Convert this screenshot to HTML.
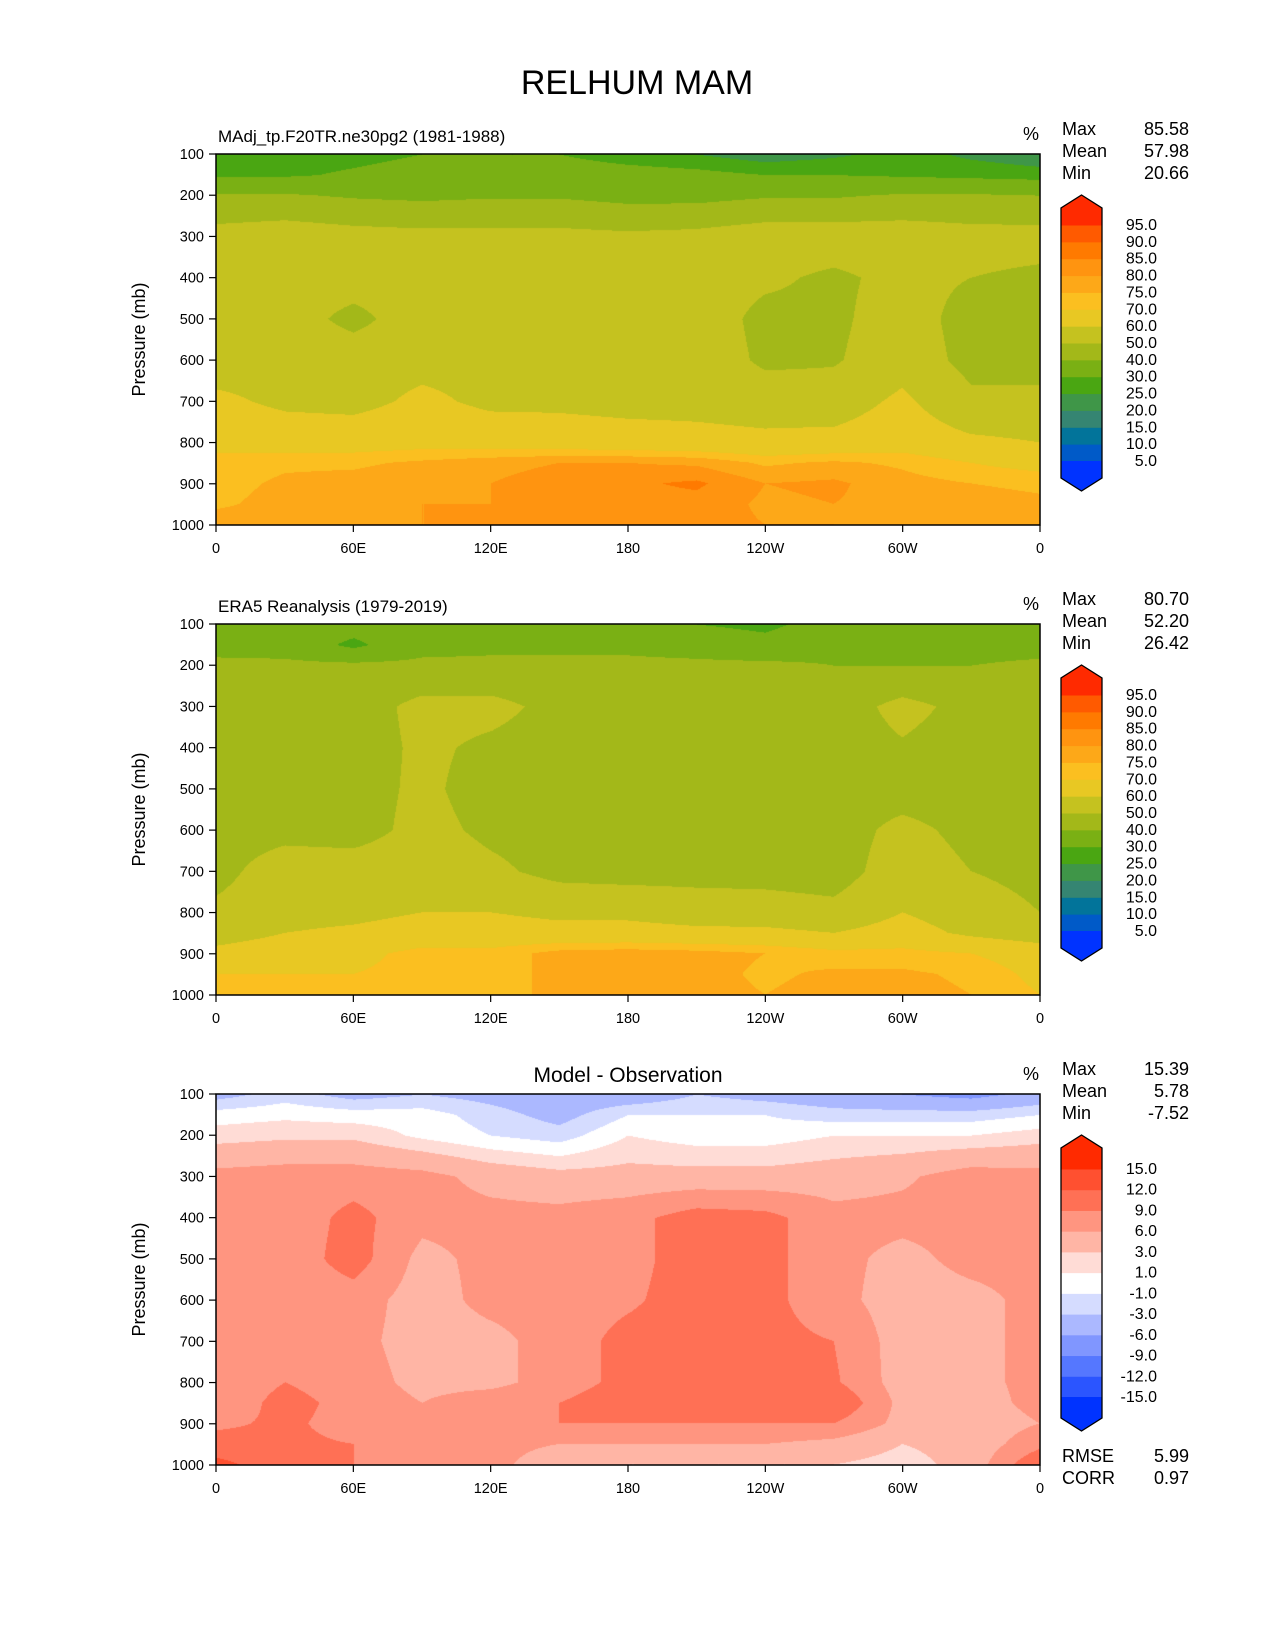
<!DOCTYPE html>
<html><head><meta charset="utf-8"><style>
body{margin:0;background:#fff;}
#wrap{position:relative;width:1275px;height:1650px;overflow:hidden;background:#fff;font-family:"Liberation Sans","DejaVu Sans",sans-serif;}
canvas{position:absolute;}
svg{position:absolute;left:0;top:0;}
</style></head><body>
<div id="wrap">
<canvas id="c0" width="824" height="371" style="left:216px;top:154px"></canvas>
<canvas id="c1" width="824" height="371" style="left:216px;top:624px"></canvas>
<canvas id="c2" width="824" height="371" style="left:216px;top:1094px"></canvas>
<svg id="ov" width="1275" height="1650" xmlns="http://www.w3.org/2000/svg">
<text x="637" y="94" font-size="34" text-anchor="middle" font-family="Liberation Sans, DejaVu Sans, sans-serif">RELHUM MAM</text>
</svg>
</div>
<script>
// ---- data ----
const lons = [0,30,60,90,120,150,180,210,240,270,300,330,360];
const levels = [100,150,200,300,400,500,600,700,800,850,900,950,1000];
const xTickLabels = ["0","60E","120E","180","120W","60W","0"];
const xTickValues = [0,60,120,180,240,300,360];
const yTickValues = [100,200,300,400,500,600,700,800,900,1000];
const model = [
[28,27,28,30,30,30,27,25,22,24,27,24,22],
[29,29,31,33,34,34,33,32,30,30,29,28,27],
[41,41,39,38,39,39,37,37,39,39,41,41,40],
[54,56,54,53,53,53,52,53,56,56,56,54,54],
[53,55,55,55,55,55,55,55,52,48,53,50,48],
[52,55,47,56,56,56,56,56,47,48,55,46,46],
[55,57,56,57,57,57,57,57,48,49,56,47,47],
[62,58,57,62,58,58,57,57,56,55,62,52,52],
[68,66,66,67,66,65,64,63,62,63,66,62,60],
[72,74,74,76,78,80,80,79,74,76,74,70,67],
[73,76,77,79,80,83,84,86,80,81,77,75,74],
[74,77,79,80,80,83,83,83,79,80,78,77,76],
[78,78,80,80,80,82,82,82,80,80,78,78,78]];
const obs = [
[33,35,34,35,35,36,35,30,28,34,35,32,30],
[37,36,28,37,38,38,38,36,33,37,38,36,36],
[42,42,42,42,42,42,42,42,42,40,40,40,42],
[45,45,45,53,53,47,45,45,45,45,53,47,45],
[46,45,45,52,48,45,44,44,44,45,49,45,45],
[46,45,46,52,46,45,44,44,44,45,45,44,45],
[46,47,46,53,48,46,45,45,45,45,53,47,46],
[47,55,55,56,52,47,46,46,46,45,56,50,47],
[52,56,57,60,60,58,58,56,55,53,60,55,50],
[55,60,62,65,64,63,63,62,62,60,64,58,54],
[63,66,68,72,72,77,78,77,75,72,72,70,66],
[70,70,70,72,72,77,78,77,74,76,76,74,68],
[70,70,72,72,72,77,77,77,75,77,77,75,70]];
const diff = [
[-4,-2,-4,-3,-4,-5,-5,-3,-4,-5,-6,-7,-5],
[0,0.5,0,0,-2,-4,-1,-1,-1,-2,-2,-2,-1],
[2,2.5,2.5,0.5,-1,-2,1,0,0,1,1,1,2],
[7,7.5,7.5,7,5,4,4,4,4,4.5,5.5,7.5,7],
[7,7,10,7,7,7,8,10.5,10,7,7,7,7],
[7,7,10.5,5,7,7,8,10.5,10,7,5,7,7],
[7,7,7.5,4.5,7,7.5,8.5,10.5,10,7,4.5,5,7],
[7,7,7,4.5,5,7.5,10,10.5,10,9,4.5,5,7],
[7,9,7.5,5,5,7.5,10,10.5,10,9.5,4.5,5,7],
[7,10,8,6,8,9,11,11,11,12,5,4.5,7],
[8.5,9.5,8,7,7,9,9,9,9,9,5,4,6],
[10,9.5,9,8,7,6,6,6,6,5,3,4,8],
[13,10,9,7,7,4,3,3,3,3,2,4,12]];
const rhBounds = [5,10,15,20,25,30,40,50,60,70,75,80,85,90,95];
const rhColors = ["#0033ff","#005ac8","#02749a","#358572","#3f9648","#4aa612","#7ab014","#a3b819","#c5c21f","#e8c823","#fbbf20","#fda818","#ff9410","#ff7a00","#ff5a00","#ff2a00"];
const dfBounds = [-15,-12,-9,-6,-3,-1,1,3,6,9,12,15];
const dfColors = ["#0033ff","#2b55ff","#5577ff","#8096ff","#abb8ff","#d5dcff","#ffffff","#ffdcd6","#ffb5a5","#ff9580","#ff7055","#ff5030","#ff2a00"];
const statsNames = ["Max","Mean","Min"];
const stats = [["85.58","57.98","20.66"],["80.70","52.20","26.42"],["15.39","5.78","-7.52"]];
const subtitles = ["MAdj_tp.F20TR.ne30pg2 (1981-1988)","ERA5 Reanalysis (1979-2019)",""];

// ---- geometry / axes ----
const PX0=216, PW=824, PH=371, PY=[154,624,1094];
function xScale(lon){return PX0 + lon/360*PW;}
function yScale(p,i){return PY[i] + (p-100)/900*PH;}
function hex(c){return [parseInt(c.substr(1,2),16),parseInt(c.substr(3,2),16),parseInt(c.substr(5,2),16)];}
function colorIdx(v,b){let k=0;while(k<b.length&&v>=b[k])k++;return k;}
function sample(grid,lon,p){
  let j=Math.min(lons.length-2,Math.floor(lon/30)); let tx=(lon-lons[j])/30;
  let i=0; while(i<levels.length-2 && p>levels[i+1]) i++;
  let ty=(p-levels[i])/(levels[i+1]-levels[i]); ty=Math.max(0,Math.min(1,ty));
  const a=grid[i][j],b=grid[i][j+1],c=grid[i+1][j],d=grid[i+1][j+1];
  return (a*(1-tx)+b*tx)*(1-ty)+(c*(1-tx)+d*tx)*ty;
}
function drawMap(id,grid,bounds,colors){
  const cv=document.getElementById(id), ctx=cv.getContext('2d');
  const img=ctx.createImageData(PW,PH); const rgb=colors.map(hex);
  for(let y=0;y<PH;y++){const p=100+y/(PH-1)*900;
    for(let x=0;x<PW;x++){const lon=x/(PW-1)*360;
      const c=rgb[colorIdx(sample(grid,lon,p),bounds)];const o=(y*PW+x)*4;
      img.data[o]=c[0];img.data[o+1]=c[1];img.data[o+2]=c[2];img.data[o+3]=255;}}
  ctx.putImageData(img,0,0);
}
drawMap('c0',model,rhBounds,rhColors);
drawMap('c1',obs,rhBounds,rhColors);
drawMap('c2',diff,dfBounds,dfColors);

const svg=document.getElementById('ov'), NS="http://www.w3.org/2000/svg";
function mk(tag,attrs,txt){const e=document.createElementNS(NS,tag);for(const k in attrs)e.setAttribute(k,attrs[k]);if(txt!==undefined)e.textContent=txt;svg.appendChild(e);return e;}
const F="Liberation Sans, DejaVu Sans, sans-serif";
for(let i=0;i<3;i++){
  const top=PY[i];
  let fr=mk('rect',{x:PX0,y:top,width:PW,height:PH,fill:'none',stroke:'#000','stroke-width':1.5});
  
  
  yTickValues.forEach(p=>{
    const y=yScale(p,i);
    let t=mk('line',{x1:PX0-7,x2:PX0,y1:y,y2:y,stroke:'#000','stroke-width':1.2});
    
    
    let l=mk('text',{x:PX0-12,y:y+5,'font-size':14.5,'text-anchor':'end','font-family':F},String(p));
    
    
  });
  xTickValues.forEach((v,k)=>{
    const x=xScale(v);
    let t=mk('line',{x1:x,x2:x,y1:top+PH,y2:top+PH+7,stroke:'#000','stroke-width':1.2});
    
    
    let l=mk('text',{x:x,y:top+PH+28,'font-size':14.5,'text-anchor':'middle','font-family':F},xTickLabels[k]);
    
    
  });
  let yt=mk('text',{x:0,y:0,'font-size':18,'text-anchor':'middle','font-family':F,transform:`translate(145,${top+PH/2}) rotate(-90)`},'Pressure (mb)');
  
  
  if(subtitles[i]){let s=mk('text',{x:218,y:top-12,'font-size':17,'font-family':F},subtitles[i]);
    
    }
  else{let s=mk('text',{x:PX0+PW/2,y:top-12,'font-size':21,'text-anchor':'middle','font-family':F},'Model - Observation');
    
    }
  let pc=mk('text',{x:1039,y:top-14,'font-size':18,'text-anchor':'end','font-family':F},'%');
  
  
  statsNames.forEach((n,k)=>{
    let a=mk('text',{x:1062,y:top-19+k*22,'font-size':18,'font-family':F},n);
    
    
    let b=mk('text',{x:1189,y:top-19+k*22,'font-size':18,'text-anchor':'end','font-family':F},stats[i][k]);
    
    
  });
  // colorbar
  const isD=i===2, bounds=isD?dfBounds:rhBounds, cols=isD?dfColors:rhColors;
  const cx=1061,cw=41;
  const yHi=isD?1169:225+i*470, yLo=isD?1397:461+i*470, ext=isD?21:17, tip=13;
  const n=bounds.length-1, step=(yLo-yHi)/n;
  const by=k=>yLo-k*step;
  for(let k=0;k<n;k++){
    let r=mk('rect',{x:cx,y:by(k+1),width:cw,height:step+0.5,fill:cols[k+1]});
    
    
  }
  let up=mk('path',{d:`M${cx},${yHi+0.5} L${cx},${yHi-ext} L${cx+cw/2},${yHi-ext-tip} L${cx+cw},${yHi-ext} L${cx+cw},${yHi+0.5}Z`,fill:cols[cols.length-1]});
  
  
  let dn=mk('path',{d:`M${cx},${yLo} L${cx},${yLo+ext} L${cx+cw/2},${yLo+ext+tip} L${cx+cw},${yLo+ext} L${cx+cw},${yLo}Z`,fill:cols[0]});
  
  
  let ol=mk('path',{d:`M${cx},${yLo+ext} L${cx},${yHi-ext} L${cx+cw/2},${yHi-ext-tip} L${cx+cw},${yHi-ext} L${cx+cw},${yLo+ext} L${cx+cw/2},${yLo+ext+tip}Z`,fill:'none',stroke:'#000','stroke-width':1.3});
  
  
  bounds.forEach((v,k)=>{
    let t=mk('text',{x:1157,y:by(k)+5,'font-size':16,'text-anchor':'end','font-family':F},v.toFixed(1));
    
    
  });
}
[["RMSE","5.99"],["CORR","0.97"]].forEach((r,k)=>{
  let a=mk('text',{x:1062,y:1462+k*22,'font-size':18,'font-family':F},r[0]);
  
  
  let b=mk('text',{x:1189,y:1462+k*22,'font-size':18,'text-anchor':'end','font-family':F},r[1]);
  
  
});
</script>
</body></html>
